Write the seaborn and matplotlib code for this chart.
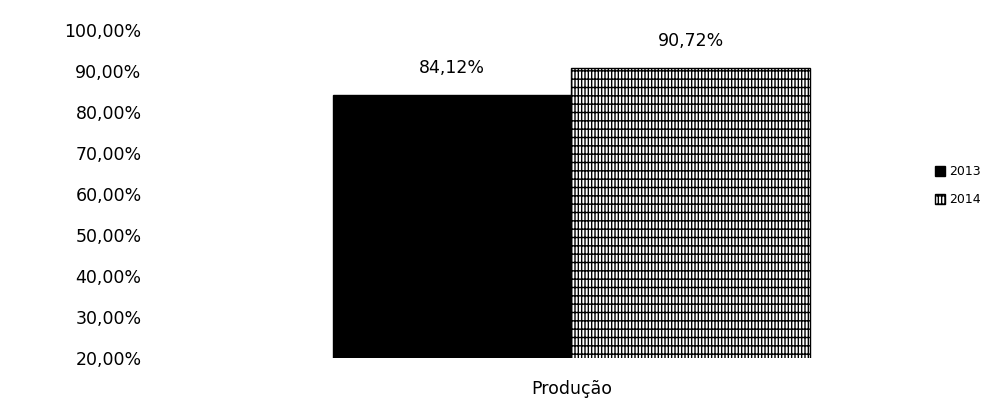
import matplotlib
matplotlib.use('Agg')
import matplotlib.pyplot as plt
from matplotlib.ticker import FuncFormatter, MultipleLocator
import pandas as pd
import seaborn as sns

categories = ['Produção']
years = ['2013', '2014']
values = [84.12, 90.72]

df = pd.DataFrame({
    'categoria': categories * len(years),
    'ano': years,
    'valor': [v / 100 for v in values],
})

sns.set_style('white')
plt.rcParams['font.family'] = ['DejaVu Sans']
plt.rcParams['text.color'] = 'black'
plt.rcParams['xtick.color'] = 'black'
plt.rcParams['ytick.color'] = 'black'
plt.rcParams['hatch.linewidth'] = 1.0

fig = plt.figure(figsize=(9.99, 4.08), dpi=100)
ax = fig.add_axes([0.15, 0.1225, 0.72, 0.8035])

sns.barplot(data=df, x='categoria', y='valor', hue='ano', palette=['black', 'white'],
            width=0.8, ax=ax, legend=False, saturation=1)

# second bar gets the dense pattern
bars = [p for p in ax.patches if p.get_height() > 0]
bars[0].set_edgecolor('black')
bars[1].set_edgecolor('black')
bars[1].set_hatch('|||++')
bars[1].set_linewidth(1.0)

for bar, v in zip(bars, values):
    ax.text(bar.get_x() + bar.get_width() / 2, bar.get_height() + 0.045,
            f'{v:.2f}%'.replace('.', ','), ha='center', va='bottom', fontsize=12.5)

ax.set_ylim(0.2, 1.0)
ax.set_xlim(-0.708, 0.5)
ax.yaxis.set_major_locator(MultipleLocator(0.1))
ax.yaxis.set_major_formatter(FuncFormatter(lambda y, _: f'{y * 100:.2f}%'.replace('.', ',')))
ax.tick_params(axis='y', labelsize=12.5, length=0, pad=6)
ax.tick_params(axis='x', labelsize=12.5, length=0, pad=16)
ax.set_xlabel('')
ax.set_ylabel('')
for s in ax.spines.values():
    s.set_visible(False)

handles = [plt.Rectangle((0, 0), 1, 1, facecolor='black', edgecolor='black'),
           plt.Rectangle((0, 0), 1, 1, facecolor='white', edgecolor='black', hatch='|||++')]
fig.legend(handles, years, loc='center left', bbox_to_anchor=(0.925, 0.545), frameon=False,
           fontsize=9, handlelength=0.8, handleheight=0.8, labelspacing=1.2, handletextpad=0.3)

fig.savefig('out.png', dpi=100)
